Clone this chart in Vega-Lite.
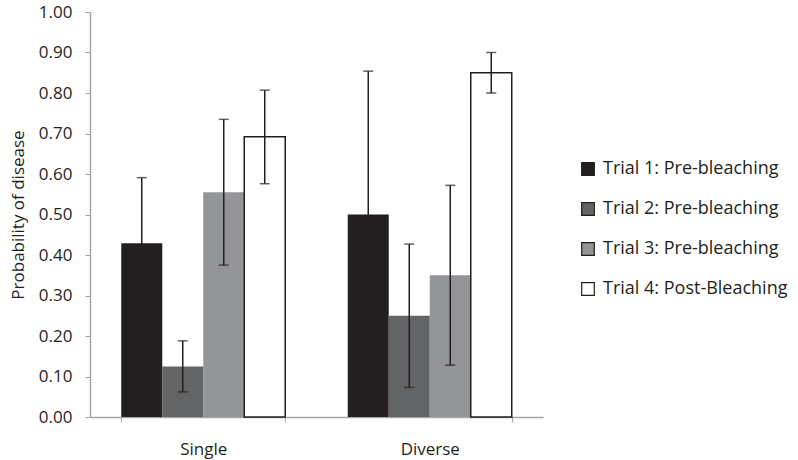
{
  "$schema": "https://vega.github.io/schema/vega-lite/v6.json",
  "autosize": "none",
  "width": 453,
  "height": 405,
  "padding": {"left": 90, "top": 12, "right": 255, "bottom": 43},
  "background": "white",
  "config": {
    "view": {"stroke": null},
    "font": "Open Sans",
    "axis": {"labelFont": "Open Sans", "titleFont": "Open Sans", "labelColor": "#231f20", "titleColor": "#231f20", "domainColor": "#a6a6a6", "tickColor": "#a6a6a6", "grid": false}
  },
  "data": {
    "values": [
      {"group": "Single", "trial": "Trial 1: Pre-bleaching", "value": 0.429, "lo": 0.267, "hi": 0.591},
      {"group": "Single", "trial": "Trial 2: Pre-bleaching", "value": 0.125, "lo": 0.062, "hi": 0.188},
      {"group": "Single", "trial": "Trial 3: Pre-bleaching", "value": 0.555, "lo": 0.375, "hi": 0.735},
      {"group": "Single", "trial": "Trial 4: Post-Bleaching", "value": 0.692, "lo": 0.576, "hi": 0.807},
      {"group": "Diverse", "trial": "Trial 1: Pre-bleaching", "value": 0.5, "lo": 0.146, "hi": 0.854},
      {"group": "Diverse", "trial": "Trial 2: Pre-bleaching", "value": 0.25, "lo": 0.073, "hi": 0.427},
      {"group": "Diverse", "trial": "Trial 3: Pre-bleaching", "value": 0.35, "lo": 0.128, "hi": 0.572},
      {"group": "Diverse", "trial": "Trial 4: Post-Bleaching", "value": 0.85, "lo": 0.8, "hi": 0.9}
    ]
  },
  "encoding": {
    "x": {
      "field": "group", "type": "nominal", "sort": ["Single", "Diverse"],
      "scale": {"paddingInner": 0.276, "paddingOuter": 0.138},
      "axis": {"title": null, "labelAngle": 0, "labelFontSize": 17, "tickBand": "extent", "tickSize": 5, "labelPadding": 19, "domainWidth": 1.5}
    },
    "xOffset": {"field": "trial", "type": "nominal", "sort": ["Trial 1: Pre-bleaching", "Trial 2: Pre-bleaching", "Trial 3: Pre-bleaching", "Trial 4: Post-Bleaching"], "scale": {"paddingInner": 0, "paddingOuter": 0}}
  },
  "layer": [
    {
      "mark": {"type": "bar", "stroke": "#231f20", "strokeWidth": 0},
      "encoding": {
        "y": {
          "field": "value", "type": "quantitative",
          "scale": {"domain": [0, 1], "nice": false},
          "axis": {"title": "Probability of disease", "format": ".2f", "values": [0, 0.1, 0.2, 0.3, 0.4, 0.5, 0.6, 0.7, 0.8, 0.9, 1.0], "labelFontSize": 17, "titleFontSize": 17, "titleFontWeight": "normal", "tickSize": 5, "labelPadding": 13, "titlePadding": 11, "domainWidth": 1.5}
        },
        "fill": {
          "field": "trial", "type": "nominal",
          "sort": ["Trial 1: Pre-bleaching", "Trial 2: Pre-bleaching", "Trial 3: Pre-bleaching", "Trial 4: Post-Bleaching"],
          "scale": {"domain": ["Trial 1: Pre-bleaching", "Trial 2: Pre-bleaching", "Trial 3: Pre-bleaching", "Trial 4: Post-Bleaching"], "range": ["#231f20", "#636466", "#939598", "#ffffff"]},
          "legend": {
            "title": null, "orient": "none", "legendX": 489, "legendY": 148,
            "symbolType": "square", "symbolSize": 160, "symbolStrokeColor": "#231f20", "symbolStrokeWidth": 1.2,
            "labelFontSize": 18, "labelColor": "#231f20", "labelFont": "Open Sans", "rowPadding": 22, "symbolOffset": 0, "labelOffset": 6, "labelLimit": 300
          }
        },
        "strokeWidth": {
          "condition": {"test": "datum.trial === 'Trial 4: Post-Bleaching'", "value": 1.5},
          "value": 0
        }
      }
    },
    {
      "mark": {"type": "rule", "color": "#231f20", "strokeWidth": 1.5},
      "encoding": {"y": {"field": "lo", "type": "quantitative"}, "y2": {"field": "hi"}}
    },
    {
      "mark": {"type": "tick", "color": "#231f20", "thickness": 1.5, "size": 10},
      "encoding": {"y": {"field": "lo", "type": "quantitative"}}
    },
    {
      "mark": {"type": "tick", "color": "#231f20", "thickness": 1.5, "size": 10},
      "encoding": {"y": {"field": "hi", "type": "quantitative"}}
    }
  ]
}
